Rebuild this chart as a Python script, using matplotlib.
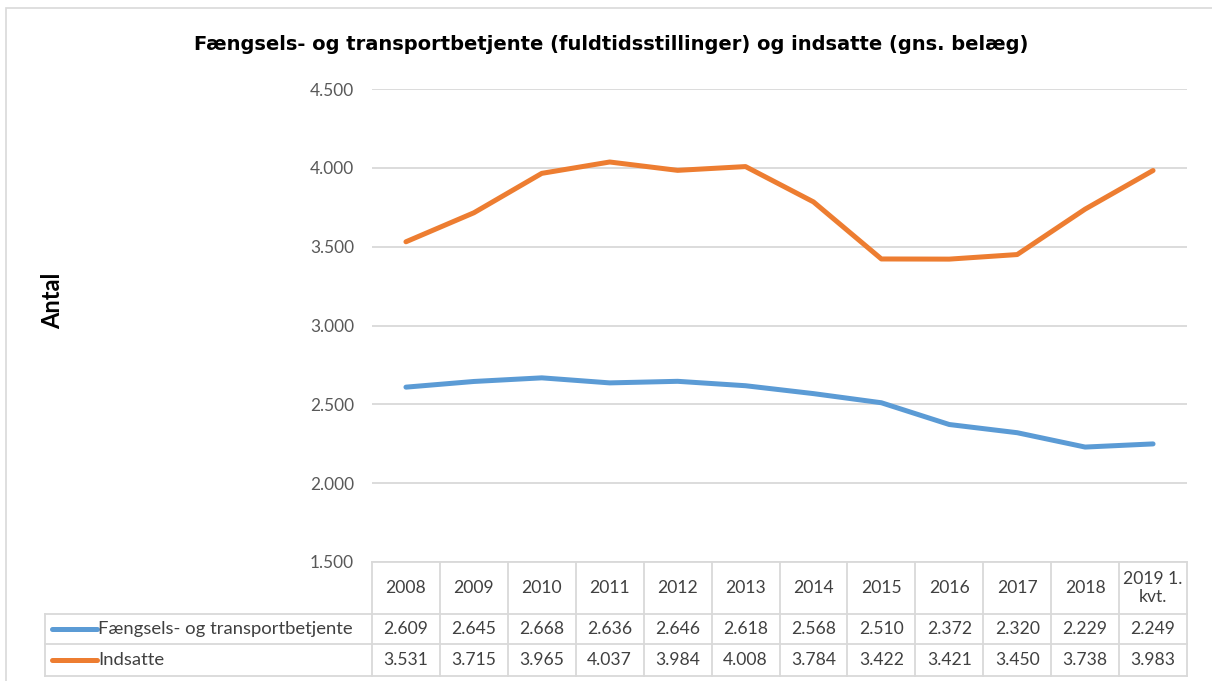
import matplotlib
matplotlib.use("Agg")
import matplotlib.pyplot as plt
from matplotlib.patches import Rectangle
from matplotlib.lines import Line2D

years = ["2008", "2009", "2010", "2011", "2012", "2013", "2014", "2015",
         "2016", "2017", "2018", "2019 1.\nkvt."]
betjente = [2609, 2645, 2668, 2636, 2646, 2618, 2568, 2510, 2372, 2320, 2229, 2249]
indsatte = [3531, 3715, 3965, 4037, 3984, 4008, 3784, 3422, 3421, 3450, 3738, 3983]
series_names = ["Fængsels- og transportbetjente", "Indsatte"]
series_colors = ["#5B9BD5", "#ED7D31"]
yticks = [1500, 2000, 2500, 3000, 3500, 4000, 4500]

W, H = 1212, 681
fig = plt.figure(figsize=(W / 100, H / 100), dpi=100)
fig.patch.set_facecolor("white")

# outer chart border (right and bottom edges run off the image)
fig.add_artist(Rectangle((6 / W, -0.05), 1.2, 1 - 8 / H + 0.05,
                         transform=fig.transFigure, fill=False,
                         edgecolor="#d9d9d9", lw=1.2))

left, right, top, bottom = 372, 1187, 89, 562
ax = fig.add_axes([left / W, 1 - bottom / H, (right - left) / W, (bottom - top) / H])

x = list(range(len(years)))
for vals, name, col in zip([betjente, indsatte], series_names, series_colors):
    ax.plot(x, vals, color=col, lw=3.6, solid_capstyle="round",
            solid_joinstyle="round", label=name, zorder=3)

ax.set_xlim(-0.5, len(years) - 0.5)
ax.set_ylim(1500, 4500)
ax.set_yticks(yticks)
ax.set_yticklabels([f"{v:,}".replace(",", ".") for v in yticks],
                   fontfamily="Lato", fontsize=12.4, color="#595959")
ax.tick_params(axis="y", length=0, pad=13)
ax.set_xticks([])
ax.grid(axis="y", color="#d9d9d9", lw=1.3)
for s in ax.spines.values():
    s.set_visible(False)

fig.text(53 / W, 1 - 301 / H, "Antal", rotation=90, ha="center", va="center",
         fontsize=17, fontweight="bold", fontfamily="Lato")
fig.text(611 / W, 1 - 45 / H,
         "Fængsels- og transportbetjente (fuldtidsstillinger) og indsatte (gns. belæg)",
         ha="center", va="center", fontsize=14, fontweight="bold",
         fontfamily="DejaVu Sans")

# data table below the plot, tied to the x data scale
tr = ax.get_xaxis_transform()
ph = bottom - top
def ay(py):
    return (bottom - py) / ph

row_y = [562, 614, 644, 676]
col_px = (right - left) / len(years)
grid_kw = dict(color="#d9d9d9", lw=1.3, clip_on=False, transform=tr)
label_left = -0.5 - (left - 45) / col_px

# horizontal lines
ax.add_line(Line2D([-0.5, len(years) - 0.5], [ay(row_y[0])] * 2, **grid_kw))
for py in row_y[1:]:
    ax.add_line(Line2D([label_left, len(years) - 0.5], [ay(py)] * 2, **grid_kw))
# vertical lines
for i in range(len(years) + 1):
    ax.add_line(Line2D([i - 0.5] * 2, [ay(row_y[0]), ay(row_y[3])], **grid_kw))
ax.add_line(Line2D([label_left] * 2, [ay(row_y[1]), ay(row_y[3])], **grid_kw))

tkw = dict(transform=tr, ha="center", va="center", fontsize=12.6,
           fontfamily="Lato", color="#404040", clip_on=False)
for i, yr in enumerate(years):
    ax.text(i, ay((row_y[0] + row_y[1]) / 2), yr, linespacing=1.2, **tkw)
for r, (vals, name, col) in enumerate(zip([betjente, indsatte], series_names, series_colors)):
    cy = ay((row_y[r + 1] + row_y[r + 2]) / 2)
    for i, v in enumerate(vals):
        ax.text(i, cy, f"{v:,}".replace(",", "."), **tkw)
    sw0 = label_left + 7 / col_px
    sw1 = label_left + 52 / col_px
    ax.add_line(Line2D([sw0, sw1], [cy, cy], color=col, lw=3.6,
                       solid_capstyle="round", transform=tr, clip_on=False))
    ax.text(sw1 + 1 / col_px, cy, name, transform=tr, ha="left", va="center",
            fontsize=13.3, fontfamily="Lato", color="#404040", clip_on=False)

fig.savefig("out.png", dpi=100)
